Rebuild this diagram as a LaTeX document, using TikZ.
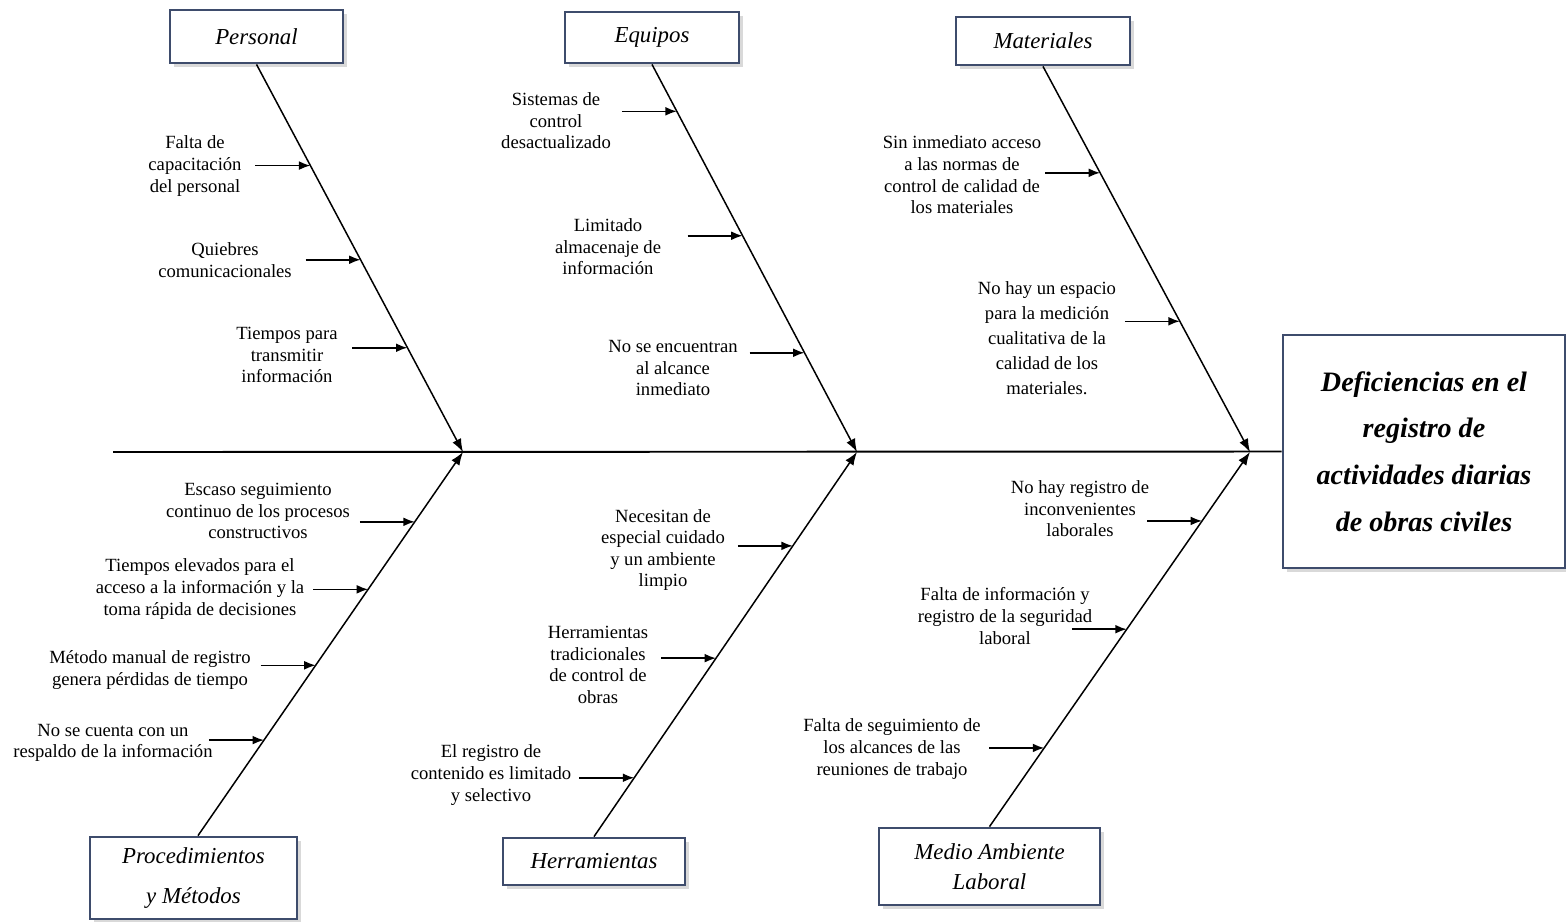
\documentclass[tikz,border=0pt]{standalone}
\usepackage{fontspec}
\setmainfont{Liberation Serif}
\usepackage{xcolor}
\usetikzlibrary{calc, positioning, shadows, arrows.meta}
\definecolor{boxblue}{RGB}{62,76,108}

\begin{document}
\begin{tikzpicture}[x=0.02cm,y=-0.02cm,
                    cat node/.style={rectangle,draw=boxblue,line width=1.6pt,fill=white,inner sep=0pt,align=center,
                      drop shadow={shadow xshift=2.5pt,shadow yshift=-2.5pt,opacity=0.3},
                      font=\fontsize{13}{16}\selectfont\itshape},
                    cause node/.style={align=center,inner sep=0pt,font=\fontsize{10.6}{12.3}\selectfont},
                    rib/.style={line width=0.85pt,-{Latex[length=7.5pt,width=5.5pt]}},
                    cause arrow/.style={line width=0.9pt,-{Latex[length=6.5pt,width=5pt]}}]

\useasboundingbox (0,0) rectangle (1566,921);

% categories
\node[cat node,minimum width=3.46cm,minimum height=1.06cm] (per) at (256.5,36.5) {Personal};
\node[cat node,minimum width=3.48cm,minimum height=1.02cm] (equ) at (652,37.5) {Equipos};
\node[cat node,minimum width=3.48cm,minimum height=0.96cm] (mat) at (1043,41) {Materiales};
\node[cat node,minimum width=4.14cm,minimum height=1.64cm,font=\fontsize{13}{22.5}\selectfont\itshape] (pro) at (193.5,878) {Procedimientos\\y Métodos};
\node[cat node,minimum width=3.64cm,minimum height=0.94cm] (her) at (594,861.5) {Herramientas};
\node[cat node,minimum width=4.42cm,minimum height=1.54cm,font=\fontsize{13}{17}\selectfont\itshape] (med) at (989.5,866.5) {Medio Ambiente\\Laboral};

\node[cat node,minimum width=5.64cm,minimum height=4.66cm,font=\fontsize{16}{26.5}\selectfont\bfseries\itshape] (def) at (1424,451.5)
  {Deficiencias en el\\registro de\\actividades diarias\\de obras civiles};

% spine and ribs
\coordinate (tail) at (113,452);
\coordinate (j1) at (463,452);
\coordinate (j2) at (857,452);
\coordinate (j3) at (1250,452);
\coordinate (pro-top) at ($(pro.north)+(4.5,0)$);
\draw[line width=1.1pt] (tail) -- (def.west);

\foreach \a/\j in {per.south/j1, equ.south/j2, mat.south/j3, pro-top/j1, her.north/j2, med.north/j3}
  \draw[rib] (\a) -- (\j);

\foreach \c/\a/\j/\f in {c1/per.south/j1/0.261, c2/per.south/j1/0.504, c3/per.south/j1/0.731,
                         c4/equ.south/j2/0.121, c5/equ.south/j2/0.442, c6/equ.south/j2/0.744,
                         c7/mat.south/j3/0.276, c8/mat.south/j3/0.661,
                         c9/pro-top/j1/0.818, c10/pro-top/j1/0.642, c11/pro-top/j1/0.444, c12/pro-top/j1/0.249,
                         c13/her.north/j2/0.756, c14/her.north/j2/0.464, c15/her.north/j2/0.153,
                         c16/med.north/j3/0.816, c17/med.north/j3/0.527, c18/med.north/j3/0.210}
  {\coordinate (\c-end) at ($(\a)!\f!(\j)$);
   \coordinate (\c-start) at ($(\c-end)+(-55,0)$);
   \draw[cause arrow] (\c-start) -- (\c-end);}

% causes
\node[cause node] (t1) at (195,166) {Falta de\\capacitación\\del personal};
\node[cause node] (t2) at (225,260) {Quiebres\\comunicacionales};
\node[cause node] (t3) at (287,355) {Tiempos para\\transmitir\\información};

\node[cause node] (t4) at (556,121) {Sistemas de\\control\\desactualizado};
\node[cause node] (t5) at (608,247) {Limitado\\almacenaje de\\información};
\node[cause node] (t6) at (673,368) {No se encuentran\\al alcance\\inmediato};

\node[cause node] (t7) at (962,175) {Sin inmediato acceso\\a las normas de\\control de calidad de\\los materiales};
\node[cause node,font=\fontsize{10.6}{14.2}\selectfont] (t8) at (1047,338) {No hay un espacio\\para la medición\\cualitativa de la\\calidad de los\\materiales.};

\node[cause node] (t9) at (258,511) {Escaso seguimiento\\continuo de los procesos\\constructivos};
\node[cause node] (t10) at (200,589) {Tiempos elevados para el\\acceso a la información y la\\toma rápida de decisiones};
\node[cause node] (t11) at (150,670) {Método manual de registro\\genera pérdidas de tiempo};
\node[cause node] (t12) at (113,743) {No se cuenta con un\\respaldo de la información};

\node[cause node] (t13) at (663,550) {Necesitan de\\especial cuidado\\y un ambiente\\limpio};
\node[cause node] (t14) at (598,665) {Herramientas\\tradicionales\\de control de\\obras};
\node[cause node] (t15) at (491,775) {El registro de\\contenido es limitado\\y selectivo};

\node[cause node] (t16) at (1080,509) {No hay registro de\\inconvenientes\\laborales};
\node[cause node] (t17) at (1005,616) {Falta de información y\\registro de la seguridad\\laboral};
\node[cause node] (t18) at (892,749) {Falta de seguimiento de\\los alcances de las\\reuniones de trabajo};

\end{tikzpicture}
\end{document}
